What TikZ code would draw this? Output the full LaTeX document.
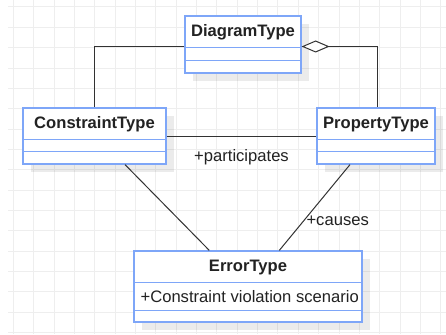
\documentclass[tikz,border=0pt]{standalone}
\usepackage{fontspec}
\setmainfont{Liberation Sans}
\usetikzlibrary{arrows.meta,calc,shadows}
\definecolor{umlblue}{RGB}{126,166,248}
\definecolor{linegray}{RGB}{50,50,50}
\definecolor{gridgray}{RGB}{238,238,238}
\definecolor{txt}{RGB}{34,34,34}
\begin{document}
\begin{tikzpicture}[x=1pt,y=-1pt,
  cls/.style={draw=umlblue, line width=1.2pt, fill=white, inner sep=0pt,
    drop shadow={shadow xshift=8pt, shadow yshift=-8pt, fill=black, opacity=0.08}},
  div/.style={draw=umlblue, line width=1.2pt},
  title/.style={font=\bfseries\fontsize{16.6}{19}\selectfont, text=txt, inner sep=0pt},
  attr/.style={font=\fontsize{16.6}{19}\selectfont, text=txt, inner sep=0pt},
  conn/.style={draw=linegray, line width=1pt},
  lbl/.style={font=\fontsize{16.6}{19}\selectfont, text=txt, inner sep=0pt}]
\useasboundingbox (0,0) rectangle (446,334);
\fill[white] (0,0) rectangle (446,334);
% grid
\foreach \k in {0,...,21} {
  \draw[gridgray, line width=0.8pt] ({13.3+20.35*\k},0) -- ({13.3+20.35*\k},334);
}
\foreach \k in {0,...,16} {
  \draw[gridgray, line width=0.8pt] (8,{6.9+20.35*\k}) -- (446,{6.9+20.35*\k});
}
% classes
\node[cls, minimum width=116pt, minimum height=57pt] (dt) at (243,44.5) {};
\node[cls, minimum width=143pt, minimum height=56pt] (ct) at (94.5,136) {};
\node[cls, minimum width=118pt, minimum height=56pt] (pt) at (376,136) {};
\node[cls, minimum width=228pt, minimum height=71pt] (et) at (248,286.5) {};
% dividers
\draw[div] ($(dt.north west)+(0,32)$) -- ($(dt.north east)+(0,32)$);
\draw[div] ($(dt.north west)+(0,45)$) -- ($(dt.north east)+(0,45)$);
\draw[div] ($(ct.north west)+(0,32)$) -- ($(ct.north east)+(0,32)$);
\draw[div] ($(ct.north west)+(0,44)$) -- ($(ct.north east)+(0,44)$);
\draw[div] ($(pt.north west)+(0,32)$) -- ($(pt.north east)+(0,32)$);
\draw[div] ($(pt.north west)+(0,44)$) -- ($(pt.north east)+(0,44)$);
\draw[div] ($(et.north west)+(0,32)$) -- ($(et.north east)+(0,32)$);
\draw[div] ($(et.north west)+(0,60)$) -- ($(et.north east)+(0,60)$);
% titles
\node[title] (dtt) at ($(dt.north)+(0,17)$) {DiagramType};
\node[title] (ctt) at ($(ct.north)+(0,17)$) {ConstraintType};
\node[title] (ptt) at ($(pt.north)+(0,17)$) {PropertyType};
\node[title] (ett) at ($(et.north)+(0,17)$) {ErrorType};
\node[attr, anchor=west] (eta) at ($(et.north west)+(7,46)$) {+Constraint violation scenario};
% connectors
\draw[conn] ([yshift=-2pt]dt.west) -| (ct.north);
\draw[conn, {Diamond[open, fill=white, length=28pt, width=12pt]}-] ([yshift=-2pt]dt.east) -| ([xshift=1.5pt]pt.north);
\draw[conn] (ct.east) -- node[lbl, midway, yshift=-21.5pt] (lp) {+participates} (pt.west);
\draw[conn] ([xshift=30.5pt]ct.south) -- ([xshift=-38.7pt]et.north);
\draw[conn] ([xshift=-26pt]pt.south) -- node[lbl, pos=0.65, anchor=west, xshift=2pt] (lc) {+causes} ([xshift=31.3pt]et.north);
\end{tikzpicture}
\end{document}
